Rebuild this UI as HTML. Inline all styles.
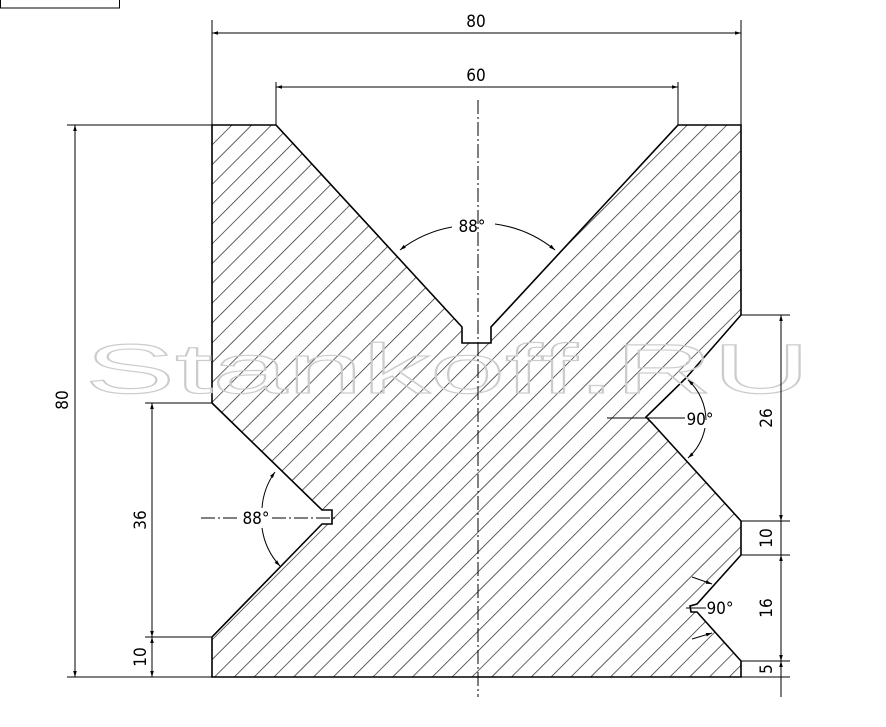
<!DOCTYPE html>
<html><head><style>body{margin:0;background:#fff}svg{display:block}</style></head><body>
<svg width="886" height="727" viewBox="0 0 886 727" xmlns="http://www.w3.org/2000/svg" font-family="DejaVu Sans Condensed, Liberation Sans Narrow, sans-serif">
<defs>
<pattern id="h" patternUnits="userSpaceOnUse" width="14" height="14" patternTransform="rotate(45)">
<line x1="0" y1="0" x2="0" y2="14" stroke="#222" stroke-width="1.4"/>
</pattern>
<marker id="a" viewBox="0 0 10 10" refX="10" refY="5" markerWidth="10" markerHeight="6" orient="auto-start-reverse" markerUnits="userSpaceOnUse"><path d="M0,2 L10,5 L0,8z" fill="#000"/></marker>
</defs>
<rect x="0.5" y="-1" width="119" height="9" fill="none" stroke="#000"/>
<path d="M212,125 L276,125 L462,327 L462,343 L491,343 L491,327 L678,125 L741,125 L741,315 L686,378 L646,417 L652,423 L741,521 L741,555 L697,604 L690,606 L691,612 L697,612 L741,661 L741,677 L212,677 L212,637 L322,524 L332,524 L332,510 L322,510 L212,403 Z" fill="url(#h)" stroke="#000" stroke-width="1.6"/>
<g font-size="70" font-family="Liberation Sans, sans-serif" fill="none" stroke="#ccc" stroke-width="1.2">
<text x="85" y="393" textLength="725" lengthAdjust="spacingAndGlyphs">Stankoff.RU</text>
</g>
<g stroke="#000" stroke-width="1" fill="none">
<line x1="478" y1="100" x2="478" y2="697" stroke-dasharray="14,3,2,3"/>
<line x1="212" y1="20" x2="212" y2="125"/><line x1="741" y1="20" x2="741" y2="125"/>
<line x1="212" y1="33" x2="741" y2="33" marker-start="url(#a)" marker-end="url(#a)"/>
<line x1="276" y1="82" x2="276" y2="125"/><line x1="678" y1="82" x2="678" y2="125"/>
<line x1="276" y1="87" x2="678" y2="87" marker-start="url(#a)" marker-end="url(#a)"/>
<line x1="67" y1="125" x2="212" y2="125"/><line x1="67" y1="677" x2="212" y2="677"/>
<line x1="75" y1="125" x2="75" y2="677" marker-start="url(#a)" marker-end="url(#a)"/>
<line x1="145" y1="403" x2="212" y2="403"/><line x1="145" y1="637" x2="212" y2="637"/>
<line x1="152" y1="403" x2="152" y2="637" marker-start="url(#a)" marker-end="url(#a)"/>
<line x1="152" y1="637" x2="152" y2="677" marker-start="url(#a)" marker-end="url(#a)"/>
<line x1="741" y1="315" x2="790" y2="315"/><line x1="741" y1="521" x2="790" y2="521"/>
<line x1="741" y1="555" x2="790" y2="555"/><line x1="741" y1="661" x2="790" y2="661"/>
<line x1="741" y1="677" x2="790" y2="677"/>
<line x1="781" y1="315" x2="781" y2="521" marker-start="url(#a)" marker-end="url(#a)"/>
<line x1="781" y1="521" x2="781" y2="555"/>
<line x1="781" y1="555" x2="781" y2="661" marker-start="url(#a)" marker-end="url(#a)"/>
<line x1="781" y1="661" x2="781" y2="697" marker-start="url(#a)"/>
<path d="M400,250 A120,120 0 0 1 452,227" marker-start="url(#a)"/>
<path d="M555,250 A120,120 0 0 0 495,224" marker-start="url(#a)"/>
<path d="M275,472 A70,70 0 0 0 262,508" marker-start="url(#a)"/>
<path d="M280,566 A70,70 0 0 1 262,528" marker-start="url(#a)"/>
<line x1="201" y1="518" x2="240" y2="518" stroke-dasharray="14,3,2,3"/>
<line x1="272" y1="518" x2="338" y2="518" stroke-dasharray="14,3,2,3"/>
<line x1="607" y1="418" x2="685" y2="418"/>
<path d="M688,380 A55,55 0 0 1 706,420" marker-start="url(#a)"/>
<path d="M688,458 A55,55 0 0 0 705,428" marker-start="url(#a)"/>
<line x1="686" y1="608" x2="706" y2="608"/>
<line x1="692" y1="577" x2="712" y2="584" marker-end="url(#a)"/>
<line x1="692" y1="639" x2="712" y2="633" marker-end="url(#a)"/>
</g>
<g font-size="17" fill="#000" text-anchor="middle">
<text x="476" y="27">80</text>
<text x="476" y="81">60</text>
<text x="472" y="232">88°</text>
<text x="256" y="524">88°</text>
<text x="700" y="425">90°</text>
<text x="720" y="614">90°</text>
<text transform="translate(68,400) rotate(-90)">80</text>
<text transform="translate(146,520) rotate(-90)">36</text>
<text transform="translate(146,657) rotate(-90)">10</text>
<text transform="translate(772,418) rotate(-90)">26</text>
<text transform="translate(772,538) rotate(-90)">10</text>
<text transform="translate(772,608) rotate(-90)">16</text>
<text transform="translate(772,669) rotate(-90)">5</text>
</g>
</svg>
</body></html>
